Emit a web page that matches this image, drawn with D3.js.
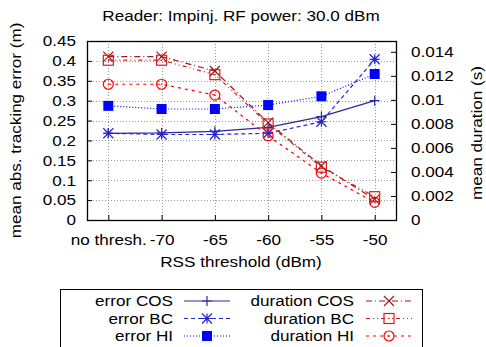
<!DOCTYPE html>
<html>
<head>
<meta charset="utf-8">
<script src="https://cdn.jsdelivr.net/npm/d3@7"></script>
<style>
  body { margin: 0; background: #fff; }
  svg text { font-family: "Liberation Sans", Arial, sans-serif; font-size: 15px; fill: #000; }
</style>
</head>
<body>
<svg id="chart" width="486" height="347"></svg>
<script>
// x categories
var thresholds = ["no thresh.", "-70", "-65", "-60", "-55", "-50"];

// mean abs. tracking error (m), left axis
var errorCOS = [0.218, 0.219, 0.223, 0.233, 0.260, 0.300];
var errorBC  = [0.218, 0.215, 0.215, 0.218, 0.247, 0.404];
var errorHI  = [0.287, 0.279, 0.279, 0.289, 0.311, 0.367];

// mean duration (s), right axis
var durCOS = [0.0136, 0.0136, 0.0124, 0.0081, 0.0045, 0.00172];
var durBC  = [0.0133, 0.0133, 0.0121, 0.0080, 0.0044, 0.00194];
var durHI  = [0.0113, 0.0113, 0.0104, 0.0070, 0.0039, 0.00147];

var yTicks  = [0, 0.05, 0.1, 0.15, 0.2, 0.25, 0.3, 0.35, 0.4, 0.45];
var y2Ticks = [0, 0.002, 0.004, 0.006, 0.008, 0.01, 0.012, 0.014];

var series = [
  {name: "error COS",    vals: errorCOS, axis: "y",  color: "#2a2a9e", dash: null,          mark: "plus"},
  {name: "error BC",     vals: errorBC,  axis: "y",  color: "#2626d0", dash: "4,3",         mark: "star"},
  {name: "error HI",     vals: errorHI,  axis: "y",  color: "#0000ff", dash: "1,2",         mark: "fsquare"},
  {name: "duration COS", vals: durCOS,   axis: "y2", color: "#a01818", dash: "6,3,1,3",     mark: "cross"},
  {name: "duration BC",  vals: durBC,    axis: "y2", color: "#d02020", dash: "4,3,1,3,1,3", mark: "square"},
  {name: "duration HI",  vals: durHI,    axis: "y2", color: "#ff0000", dash: "3,4",         mark: "circle"}
];

var SX = 1.14; // glyphs in the picture are a bit wider than the font
var m = {left: 87, right: 396, top: 41, bottom: 220};
var svg = d3.select("#chart");

var x = d3.scaleLinear().domain([-0.4, thresholds.length - 0.6]).range([m.left, m.right]);
var y = d3.scaleLinear().domain([0, 0.45]).range([m.bottom, m.top]);
var y2 = d3.scaleLinear().domain([0, 0.0149]).range([m.bottom, m.top]);

function label(g, tx, ty, rot, anchor, str) {
  return g.append("text")
    .attr("transform", "translate(" + tx + "," + ty + ")" + (rot ? " rotate(" + rot + ")" : "") + " scale(" + SX + ",1)")
    .attr("text-anchor", anchor).text(str);
}

// grid
var grid = svg.append("g").attr("stroke", "#999").attr("stroke-width", 1).attr("stroke-dasharray", "1,2");
grid.selectAll(".gy").data(yTicks.slice(1, -1)).enter().append("line")
  .attr("x1", m.left).attr("x2", m.right)
  .attr("y1", function(d){ return Math.round(y(d)) + 0.5; })
  .attr("y2", function(d){ return Math.round(y(d)) + 0.5; });
grid.selectAll(".gx").data(thresholds).enter().append("line")
  .attr("y1", m.top).attr("y2", m.bottom)
  .attr("x1", function(d, i){ return Math.round(x(i)) + 0.5; })
  .attr("x2", function(d, i){ return Math.round(x(i)) + 0.5; });

// axes (ticks inward)
var yAxis = d3.axisLeft(y).tickValues(yTicks).tickSize(-5)
  .tickFormat(function(d){ return String(+d.toFixed(2)); });
var gy = svg.append("g").attr("transform", "translate(" + m.left + ",0)").call(yAxis);
gy.selectAll("text").attr("x", null).attr("transform", "translate(-11,0) scale(" + SX + ",1)");

var y2Axis = d3.axisRight(y2).tickValues(y2Ticks).tickSize(-5)
  .tickFormat(function(d){ return String(+d.toFixed(3)); });
var gy2 = svg.append("g").attr("transform", "translate(" + m.right + ",0)").call(y2Axis);
gy2.selectAll("text").attr("x", null).attr("transform", "translate(15,0) scale(" + SX + ",1)");

var xAxis = d3.axisBottom(x).tickValues(d3.range(thresholds.length)).tickSize(-5)
  .tickFormat(function(i){ return thresholds[i]; });
var gx = svg.append("g").attr("transform", "translate(0," + m.bottom + ")").call(xAxis);
gx.selectAll("text").attr("y", null).attr("transform", "translate(0,14) scale(" + SX + ",1)");

[gy, gy2, gx].forEach(function(g){
  g.select(".domain").remove();
  g.selectAll("text").attr("font-size", 15).attr("font-family", "Liberation Sans, Arial, sans-serif").attr("fill", "#000");
  g.selectAll("line").attr("stroke", "#000");
});

// frame
svg.append("rect").attr("x", m.left + 0.5).attr("y", m.top + 0.5)
  .attr("width", m.right - m.left).attr("height", m.bottom - m.top)
  .attr("fill", "none").attr("stroke", "#000").attr("stroke-width", 1.3);

// titles
label(svg, 241, 21, 0, "middle", "Reader: Impinj. RF power: 30.0 dBm");
label(svg, 241, 267, 0, "middle", "RSS threshold (dBm)");
label(svg, 21, (m.top + m.bottom) / 2, -90, "middle", "mean abs. tracking error (m)");
label(svg, 482, 133, -90, "middle", "mean duration (s)");

// markers
function drawMark(g, type, cx, cy, color) {
  var s = 5;
  if (type === "plus") {
    g.append("path").attr("d", "M" + (cx - s) + "," + cy + "H" + (cx + s) + "M" + cx + "," + (cy - s) + "V" + (cy + s))
      .attr("stroke", color).attr("stroke-width", 1.2).attr("fill", "none");
  } else if (type === "star") {
    g.append("path").attr("d", "M" + (cx - s) + "," + cy + "H" + (cx + s) + "M" + cx + "," + (cy - s) + "V" + (cy + s) +
        "M" + (cx - s) + "," + (cy - s) + "L" + (cx + s) + "," + (cy + s) + "M" + (cx - s) + "," + (cy + s) + "L" + (cx + s) + "," + (cy - s))
      .attr("stroke", color).attr("stroke-width", 1.2).attr("fill", "none");
  } else if (type === "cross") {
    g.append("path").attr("d", "M" + (cx - s) + "," + (cy - s) + "L" + (cx + s) + "," + (cy + s) + "M" + (cx - s) + "," + (cy + s) + "L" + (cx + s) + "," + (cy - s))
      .attr("stroke", color).attr("stroke-width", 1.2).attr("fill", "none");
  } else if (type === "fsquare") {
    g.append("rect").attr("x", cx - s).attr("y", cy - s).attr("width", 2 * s).attr("height", 2 * s).attr("fill", color);
  } else if (type === "square") {
    g.append("rect").attr("x", cx - s).attr("y", cy - s).attr("width", 2 * s).attr("height", 2 * s)
      .attr("fill", "none").attr("stroke", color).attr("stroke-width", 1.2);
    g.append("circle").attr("cx", cx).attr("cy", cy).attr("r", 0.7).attr("fill", color);
  } else if (type === "circle") {
    g.append("circle").attr("cx", cx).attr("cy", cy).attr("r", s).attr("fill", "none").attr("stroke", color).attr("stroke-width", 1.2);
    g.append("circle").attr("cx", cx).attr("cy", cy).attr("r", 0.7).attr("fill", color);
  }
}

// series
var plot = svg.append("g");
series.forEach(function(s){
  var sc = s.axis === "y" ? y : y2;
  var line = d3.line().x(function(d, i){ return x(i); }).y(function(d){ return sc(d); });
  plot.append("path").datum(s.vals).attr("d", line)
    .attr("fill", "none").attr("stroke", s.color).attr("stroke-width", 1.2)
    .attr("stroke-dasharray", s.dash);
  s.vals.forEach(function(v, i){ drawMark(plot, s.mark, x(i), sc(v), s.color); });
});

// legend
var lg = svg.append("g");
lg.append("rect").attr("x", 60.5).attr("y", 289.5).attr("width", 362).attr("height", 70)
  .attr("fill", "#fff").attr("stroke", "#000").attr("stroke-width", 1);
series.forEach(function(s, k){
  var col = Math.floor(k / 3), row = k % 3;
  var ty = 301 + row * 17.5;
  var tx = col === 0 ? 173 : 354;
  var lx = col === 0 ? 184 : 366;
  label(lg, tx, ty + 5, 0, "end", s.name);
  lg.append("line").attr("x1", lx).attr("x2", lx + 46).attr("y1", ty).attr("y2", ty)
    .attr("stroke", s.color).attr("stroke-width", 1.2).attr("stroke-dasharray", s.dash);
  drawMark(lg, s.mark, lx + 23, ty, s.color);
});
</script>
</body>
</html>
